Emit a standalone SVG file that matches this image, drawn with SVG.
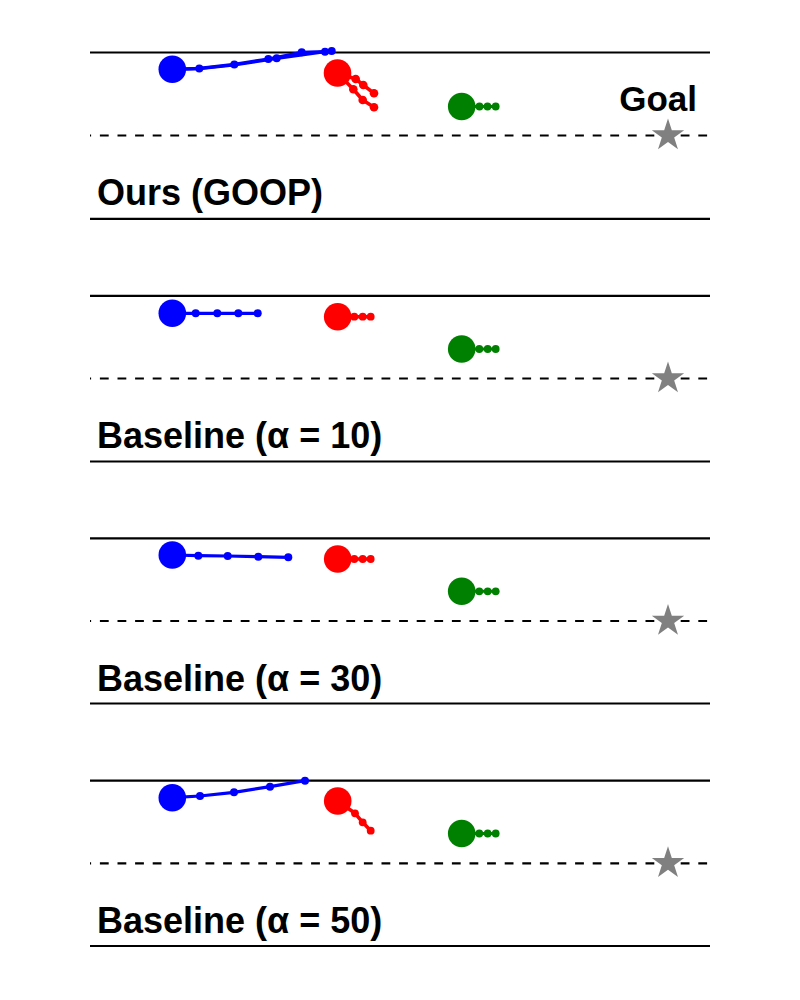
<svg xmlns="http://www.w3.org/2000/svg" xmlns:xlink="http://www.w3.org/1999/xlink" width="800" height="1000" viewBox="0 0 800 1000">
<style>
.solid{stroke:#000;stroke-width:2.2;fill:none}
.dash{stroke:#000;stroke-width:2.2;fill:none;stroke-dasharray:8.8 8.8;stroke-dashoffset:7.7}
.lbl{font-family:"Liberation Sans",Arial,Helvetica,sans-serif;font-weight:bold;font-size:36px;fill:#000}
.goal{font-size:35px}
.b{stroke:#0000ff;stroke-width:3.2;fill:none;stroke-linejoin:round;stroke-linecap:round}
.r{stroke:#ff0000;stroke-width:3.6;fill:none;stroke-linejoin:round;stroke-linecap:round}
.g{stroke:#008000;stroke-width:3;fill:none}
.bf{fill:#0000ff}
.rf{fill:#ff0000}
.gf{fill:#008000}
.star{fill:#808080}
</style>
<defs>
<polygon id="star" class="star" points="0,-17 3.82,-5.26 16.17,-5.25 6.18,2.01 9.99,13.75 0,6.5 -9.99,13.75 -6.18,2.01 -16.17,-5.25 -3.82,-5.26"/>
</defs>
<rect width="800" height="1000" fill="#fff"/>

<g id="panel-ours">
<line class="solid" x1="90" y1="52.5" x2="710" y2="52.5"/>
<line class="dash" x1="90" y1="135.5" x2="710" y2="135.5"/>
<line class="solid" x1="90" y1="218.8" x2="710" y2="218.8"/>
<text class="lbl" x="97" y="205">Ours (GOOP)</text>
<text class="lbl goal" x="697" y="110.5" text-anchor="end">Goal</text>
<use xlink:href="#star" href="#star" x="668" y="135.5"/>
<g id="ours-blue">
<polyline class="b" points="172.3,69.3 199.3,68.3 234.3,64.3 268.3,59 301.7,52.3 325,51.7"/>
<polyline class="b" points="172.3,69.3 199.3,68.6 234.3,65 276.7,58.3 325,51.7 331.7,51"/>
<circle class="bf" cx="199.3" cy="68.4" r="4"/>
<circle class="bf" cx="234.3" cy="64.6" r="4"/>
<circle class="bf" cx="268.3" cy="59" r="4"/>
<circle class="bf" cx="276.7" cy="58.3" r="4"/>
<circle class="bf" cx="301.7" cy="52.3" r="4"/>
<circle class="bf" cx="325" cy="51.7" r="4"/>
<circle class="bf" cx="331.7" cy="51" r="4"/>
<circle class="bf" cx="172.3" cy="69.3" r="13.8"/>
</g>
<g id="ours-red">
<polyline class="r" points="337.5,73 355.7,79 363.3,85 374,93.3"/>
<polyline class="r" points="337.5,73 353.3,89.3 362.7,100 374,107.3"/>
<circle class="rf" cx="355.7" cy="79" r="4.3"/>
<circle class="rf" cx="363.3" cy="85" r="4.3"/>
<circle class="rf" cx="374" cy="93.3" r="4.3"/>
<circle class="rf" cx="353.3" cy="89.3" r="4.3"/>
<circle class="rf" cx="362.7" cy="100" r="4.3"/>
<circle class="rf" cx="374" cy="107.3" r="4.3"/>
<circle class="rf" cx="337.5" cy="73" r="13.8"/>
</g>
<g id="ours-green">
<line class="g" x1="461.7" y1="106.5" x2="495.7" y2="106.5"/>
<circle class="gf" cx="479.5" cy="106.5" r="3.9"/>
<circle class="gf" cx="487.5" cy="106.5" r="3.9"/>
<circle class="gf" cx="495.7" cy="106.5" r="3.9"/>
<circle class="gf" cx="461.7" cy="106.5" r="13.8"/>
</g>
</g>

<g id="panel-a10">
<line class="solid" x1="90" y1="295.8" x2="710" y2="295.8"/>
<line class="dash" x1="90" y1="378.5" x2="710" y2="378.5"/>
<line class="solid" x1="90" y1="461.5" x2="710" y2="461.5"/>
<text class="lbl" x="97" y="448">Baseline (α = 10)</text>
<use xlink:href="#star" href="#star" x="668" y="378.5"/>
<g id="a10-blue">
<polyline class="b" points="172.3,313.3 257.7,313.3"/>
<circle class="bf" cx="195.7" cy="313.3" r="4"/>
<circle class="bf" cx="217.3" cy="313.3" r="4"/>
<circle class="bf" cx="238.3" cy="313.3" r="4"/>
<circle class="bf" cx="257.7" cy="313.3" r="4"/>
<circle class="bf" cx="172.3" cy="313.3" r="13.8"/>
</g>
<g id="a10-red">
<line class="r" x1="337.7" y1="316.7" x2="370.7" y2="316.7"/>
<circle class="rf" cx="354.3" cy="316.7" r="3.9"/>
<circle class="rf" cx="362.7" cy="316.7" r="3.9"/>
<circle class="rf" cx="370.7" cy="316.7" r="3.9"/>
<circle class="rf" cx="337.7" cy="316.7" r="13.8"/>
</g>
<g id="a10-green">
<line class="g" x1="461.7" y1="349" x2="495.7" y2="349"/>
<circle class="gf" cx="479.3" cy="349" r="3.9"/>
<circle class="gf" cx="487.7" cy="349" r="3.9"/>
<circle class="gf" cx="495.7" cy="349" r="3.9"/>
<circle class="gf" cx="461.7" cy="349" r="13.8"/>
</g>
</g>

<g id="panel-a30">
<line class="solid" x1="90" y1="538.3" x2="710" y2="538.3"/>
<line class="dash" x1="90" y1="621" x2="710" y2="621"/>
<line class="solid" x1="90" y1="703.5" x2="710" y2="703.5"/>
<text class="lbl" x="97" y="690.5">Baseline (α = 30)</text>
<use xlink:href="#star" href="#star" x="668" y="621"/>
<g id="a30-blue">
<polyline class="b" points="172.3,555 198.3,555.7 227.7,556 258.3,556.7 288.3,557.3"/>
<circle class="bf" cx="198.3" cy="555.7" r="4"/>
<circle class="bf" cx="227.7" cy="556" r="4"/>
<circle class="bf" cx="258.3" cy="556.7" r="4"/>
<circle class="bf" cx="288.3" cy="557.3" r="4"/>
<circle class="bf" cx="172.3" cy="555" r="13.8"/>
</g>
<g id="a30-red">
<line class="r" x1="337.7" y1="559" x2="370.7" y2="559"/>
<circle class="rf" cx="354.3" cy="559" r="3.9"/>
<circle class="rf" cx="362.7" cy="559" r="3.9"/>
<circle class="rf" cx="370.7" cy="559" r="3.9"/>
<circle class="rf" cx="337.7" cy="559" r="13.8"/>
</g>
<g id="a30-green">
<line class="g" x1="461.7" y1="591.3" x2="495.7" y2="591.3"/>
<circle class="gf" cx="479.3" cy="591.3" r="3.9"/>
<circle class="gf" cx="487.7" cy="591.3" r="3.9"/>
<circle class="gf" cx="495.7" cy="591.3" r="3.9"/>
<circle class="gf" cx="461.7" cy="591.3" r="13.8"/>
</g>
</g>

<g id="panel-a50">
<line class="solid" x1="90" y1="780.7" x2="710" y2="780.7"/>
<line class="dash" x1="90" y1="863.3" x2="710" y2="863.3"/>
<line class="solid" x1="90" y1="946" x2="710" y2="946"/>
<text class="lbl" x="97" y="933">Baseline (α = 50)</text>
<use xlink:href="#star" href="#star" x="668" y="863.3"/>
<g id="a50-blue">
<polyline class="b" points="172.3,797.7 200,796 234,792.3 270,786.7 305,780.7"/>
<circle class="bf" cx="200" cy="796" r="4"/>
<circle class="bf" cx="234" cy="792.3" r="4"/>
<circle class="bf" cx="270" cy="786.7" r="4"/>
<circle class="bf" cx="305" cy="780.7" r="4"/>
<circle class="bf" cx="172.3" cy="797.7" r="13.8"/>
</g>
<g id="a50-red">
<polyline class="r" points="337.7,801 355,813.3 362.7,822.3 370.7,830.7"/>
<circle class="rf" cx="355" cy="813.3" r="3.9"/>
<circle class="rf" cx="362.7" cy="822.3" r="3.9"/>
<circle class="rf" cx="370.7" cy="830.7" r="3.9"/>
<circle class="rf" cx="337.7" cy="801" r="13.8"/>
</g>
<g id="a50-green">
<line class="g" x1="461.7" y1="833.5" x2="495.7" y2="833.5"/>
<circle class="gf" cx="479.3" cy="833.5" r="3.9"/>
<circle class="gf" cx="487.7" cy="833.5" r="3.9"/>
<circle class="gf" cx="495.7" cy="833.5" r="3.9"/>
<circle class="gf" cx="461.7" cy="833.5" r="13.8"/>
</g>
</g>
</svg>
